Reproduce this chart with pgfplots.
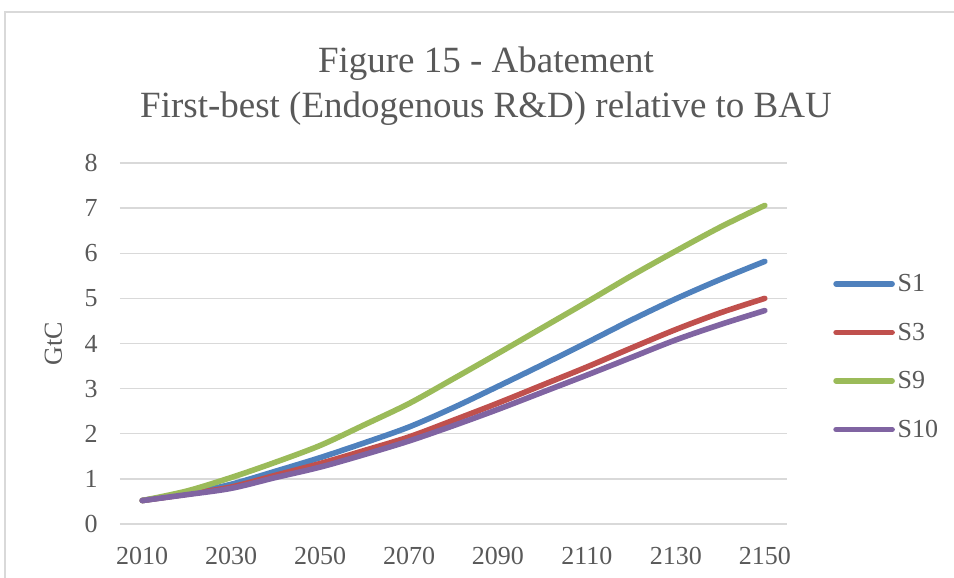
\documentclass[border=0pt]{standalone}
\usepackage{pgfplots}
\pgfplotsset{compat=1.18}
\usepackage{fontspec}
\setmainfont{Liberation Serif}

\definecolor{sOne}{HTML}{4F81BD}
\definecolor{sThree}{HTML}{C0504D}
\definecolor{sNine}{HTML}{9BBB59}
\definecolor{sTen}{HTML}{8064A2}
\definecolor{txt}{HTML}{595959}
\definecolor{gridc}{HTML}{D9D9D9}

\pgfplotstableread{
year  S1    S3    S9    S10
2010  0.52  0.52  0.52  0.52
2020  0.67  0.66  0.73  0.65
2030  0.88  0.82  1.03  0.79
2040  1.17  1.08  1.37  1.03
2050  1.47  1.34  1.74  1.26
2060  1.80  1.63  2.20  1.54
2070  2.15  1.93  2.67  1.84
2080  2.58  2.30  3.22  2.18
2090  3.05  2.68  3.78  2.54
2100  3.53  3.08  4.35  2.92
2110  4.02  3.48  4.92  3.30
2120  4.52  3.90  5.50  3.69
2130  4.99  4.31  6.05  4.08
2140  5.42  4.68  6.58  4.42
2150  5.82  5.00  7.06  4.73
}\abatement

\begin{document}
\begin{tikzpicture}[x=0.75pt,y=0.75pt]
\useasboundingbox (0,0) rectangle (954,578);
\draw[gridc, line width=1.2pt] (5,0) -- (5,566) -- (954,566);
\node[anchor=base, text=txt, inner sep=0pt, font=\fontsize{27.75pt}{33pt}\selectfont] at (486,505) {Figure 15 - Abatement};
\node[anchor=base, text=txt, inner sep=0pt, font=\fontsize{27.75pt}{33pt}\selectfont] at (486,460) {First-best (Endogenous R\&D) relative to BAU};
\begin{axis}[
  at={(90pt,40.5pt)}, anchor=south west,
  scale only axis, width=500.25pt, height=270.75pt,
  xmin=2005, xmax=2155, ymin=0, ymax=8,
  xtick={2010,2030,...,2150}, ytick={0,1,...,8},
  /pgf/number format/1000 sep={},
  /pgf/number format/assume math mode=true,
  axis line style={draw=none},
  major tick length=0pt,
  ymajorgrids, grid style={gridc, line width=1pt},
  tick label style={text=txt, font=\fontsize{19.5pt}{23pt}\selectfont, inner sep=0pt},
  xticklabel style={anchor=north, yshift=-17pt},
  yticklabel style={anchor=east, xshift=-16.5pt},
  ylabel={GtC},
  ylabel style={at={(axis description cs:-0.1,0.5)}, anchor=center, text=txt, font=\fontsize{19.5pt}{23pt}\selectfont},
  every axis plot/.append style={line width=4.2pt, line cap=round, line join=round},
  legend style={at={(axis description cs:1.069,0.4634)}, anchor=west, draw=none, fill=none,
    inner sep=0pt, text=txt, font=\fontsize{19.5pt}{23pt}\selectfont,
    row sep=22pt, column sep=2pt, nodes={inner sep=0pt}},
  legend cell align=left,
  legend image code/.code={\draw[#1] (0pt,0pt) -- (42pt,0pt);},
]
\addplot[sOne, smooth]   table[x=year, y=S1]  {\abatement};
\addplot[sThree, smooth] table[x=year, y=S3]  {\abatement};
\addplot[sNine, smooth]  table[x=year, y=S9]  {\abatement};
\addplot[sTen, smooth]   table[x=year, y=S10] {\abatement};
\legend{S1, S3, S9, S10}
\end{axis}
\end{tikzpicture}
\end{document}
